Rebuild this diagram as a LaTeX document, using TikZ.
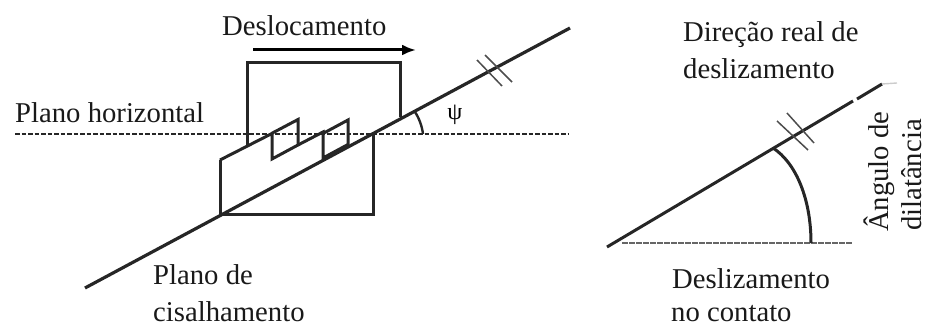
\documentclass[tikz,border=0pt]{standalone}
\usepackage{fontspec}
\setmainfont{Liberation Serif}
\usetikzlibrary{arrows.meta}
\tikzset{
  lbl/.style={inner sep=0pt,anchor=base west,font=\fontsize{28.7}{32}\selectfont,text=black!90},
  heavy/.style={line width=3pt,black!85,line join=miter},
  thin line/.style={line width=1.5pt,black!70},
}
\begin{document}
\begin{tikzpicture}[x=1pt,y=-1pt]
\useasboundingbox (0,0) rectangle (928,328);
% labels
\node[lbl] (desl) at (222,36) {Deslocamento};
\node[lbl] (ph) at (15,123) {Plano horizontal};
\node[lbl] (pc1) at (153,285) {Plano de};
\node[lbl] (pc2) at (153,321) {cisalhamento};
\node[lbl] (dr1) at (683,42) {Direção real de};
\node[lbl] (dr2) at (683,79) {deslizamento};
\node[lbl] (dc1) at (672,289) {Deslizamento};
\node[lbl] (dc2) at (671,321) {no contato};
\node[lbl,rotate=90] (ang1) at (888,232) {Ângulo de};
\node[lbl,rotate=90] (ang2) at (921,231) {dilatância};
\node[inner sep=0pt,font=\fontsize{24}{28}\selectfont] (psi) at (455,115) {ψ};
% coordinates
\coordinate (s0) at (85,288);
\coordinate (s1) at (570,28);
\coordinate (a0) at (253,50);
\coordinate (a1) at (416,50);
\coordinate (h0) at (15,134);
\coordinate (h1) at (568,134);
% displacement arrow
\draw[line width=3pt,-{Latex[length=14pt,width=11pt]}] (a0) -- (a1);
% horizontal
\draw[line width=2.8pt,black!85,dash pattern=on 4.5pt off 2pt] (h0) -- (h1);
% shear plane
\draw[heavy,line width=3.2pt] (s0) -- (s1);
% upper block with teeth
\draw[heavy] (247,145) -- (247,63) -- (400,63) -- (400,117);
\draw[heavy] (220,160) -- (272,133.5) -- (272,159) -- (298,145) -- (298,119.5) -- (271.5,133.5);
\draw[heavy] (298,145) -- (323,132) -- (323,158) -- (348,144.5) -- (348,120) -- (323,133.5);
% lower block
\draw[heavy] (220,160) -- (220,215) -- (373,215) -- (373,134);
% angle arc
\draw[heavy,line width=2.4pt] (415,112) .. controls (419,118) and (422,126) .. (423,134);
% hash marks
\draw[thin line] (477,60) -- (502,86);
\draw[thin line] (485,55) -- (512,82);
% right figure
\coordinate (r0) at (607,247);
\coordinate (r1) at (853,101);
\coordinate (r2) at (857,99);
\coordinate (r3) at (882,84);
\draw[heavy] (r0) -- (r1);
\draw[heavy] (r2) -- (r3);
\draw[line width=1.4pt,black!20] (r3) -- (897,83);
\draw[line width=2pt,black!60,dash pattern=on 6pt off 1pt] (622,243) -- (852,243);
\draw[heavy] (773,148) .. controls (796,163) and (811,199) .. (811,243);
\draw[thin line] (777,121) -- (808,150);
\draw[thin line] (787,113) -- (814,143);
\end{tikzpicture}
\end{document}
